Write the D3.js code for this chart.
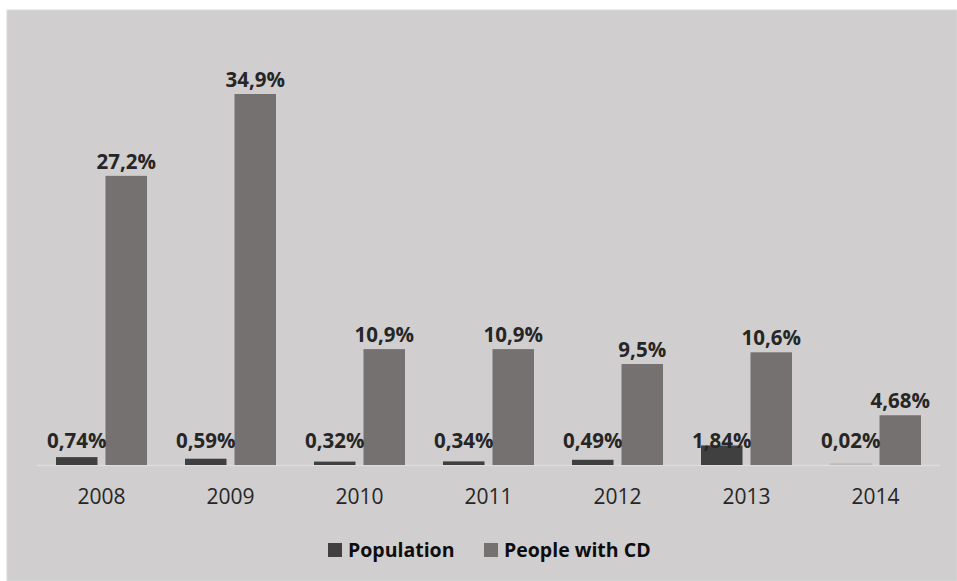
<!DOCTYPE html>
<html>
<head>
<meta charset="utf-8">
<script src="https://cdn.jsdelivr.net/npm/d3@7"></script>
<style>
  html, body { margin: 0; padding: 0; background: #ffffff; }
  svg { display: block; }
</style>
</head>
<body>
<svg id="chart" width="957" height="581"></svg>
<script>
// Share of population vs. share of people with CD, by year
const years = ["2008", "2009", "2010", "2011", "2012", "2013", "2014"];
const population = [0.74, 0.59, 0.32, 0.34, 0.49, 1.84, 0.02];
const peopleWithCD = [27.2, 34.9, 10.9, 10.9, 9.5, 10.6, 4.68];
const populationLabels = ["0,74%", "0,59%", "0,32%", "0,34%", "0,49%", "1,84%", "0,02%"];
const peopleLabels = ["27,2%", "34,9%", "10,9%", "10,9%", "9,5%", "10,6%", "4,68%"];
const seriesNames = ["Population", "People with CD"];
const seriesColors = ["#404040", "#767171"];

const svg = d3.select("#chart");
const font = "'Open Sans', 'Noto Sans', sans-serif";

// chart area background
svg.append("rect")
  .attr("x", 7).attr("y", 10)
  .attr("width", 957 - 7).attr("height", 581 - 10)
  .attr("fill", "#d0cece")
  .attr("stroke", "#d9d9d9").attr("stroke-width", 1);

const plot = { left: 37, right: 940, baseline: 465 };

const x = d3.scaleBand().domain(years).range([plot.left, plot.right]).paddingInner(0).paddingOuter(0);
const y = d3.scaleLinear().domain([0, 34.9]).range([plot.baseline, 94]);

const barW = 41.5;
const gap = 8;
const step = x.bandwidth();
const groupW = barW * 2 + gap;
const offsets = [step / 2 - groupW / 2, step / 2 - groupW / 2 + barW + gap];

// baseline
svg.append("line")
  .attr("x1", plot.left).attr("x2", plot.right)
  .attr("y1", plot.baseline + 0.5).attr("y2", plot.baseline + 0.5)
  .attr("stroke", "#dcdcdc").attr("stroke-width", 1.5);

const series = [population, peopleWithCD];
series.forEach((vals, si) => {
  svg.append("g").selectAll("rect")
    .data(vals)
    .join("rect")
    .attr("x", (d, i) => x(years[i]) + offsets[si])
    .attr("y", d => y(d))
    .attr("width", barW)
    .attr("height", d => Math.max(y(0) - y(d), 0))
    .attr("fill", seriesColors[si]);
});

// values too small to show as a bar get a faint line
const tiny = population.map((d, i) => ({ d, i })).filter(o => y(0) - y(o.d) < 1);
svg.append("g").selectAll("line")
  .data(tiny)
  .join("line")
  .attr("x1", o => x(years[o.i]) + offsets[0])
  .attr("x2", o => x(years[o.i]) + offsets[0] + barW)
  .attr("y1", plot.baseline - 1).attr("y2", plot.baseline - 1)
  .attr("stroke", "#bdbdbd").attr("stroke-width", 1.5);

// data labels: population labels sit in one row above the baseline
svg.append("g").selectAll("text")
  .data(populationLabels)
  .join("text")
  .attr("x", (d, i) => x(years[i]) + offsets[0] + barW / 2)
  .attr("y", plot.baseline - 17)
  .attr("text-anchor", "middle")
  .attr("font-family", font).attr("font-weight", 700).attr("font-size", 20.5)
  .attr("fill", "#262626")
  .text(d => d);

svg.append("g").selectAll("text")
  .data(peopleLabels)
  .join("text")
  .attr("x", (d, i) => x(years[i]) + offsets[1] + barW / 2)
  .attr("y", (d, i) => y(peopleWithCD[i]) - 7)
  .attr("text-anchor", "middle")
  .attr("font-family", font).attr("font-weight", 700).attr("font-size", 20.5)
  .attr("fill", "#262626")
  .text(d => d);

// category axis
const axis = svg.append("g")
  .attr("transform", `translate(0,${plot.baseline})`)
  .call(d3.axisBottom(x).tickSize(0).tickPadding(0));
axis.select(".domain").remove();
axis.selectAll("text")
  .attr("y", 39).attr("dy", null)
  .attr("font-family", font).attr("font-size", 21)
  .attr("fill", "#262626");

// legend
const legendItems = [
  { name: seriesNames[0], color: seriesColors[0], x: 328 },
  { name: seriesNames[1], color: seriesColors[1], x: 484 }
];
const lg = svg.append("g").selectAll("g").data(legendItems).join("g")
  .attr("transform", d => `translate(${d.x},543)`);
lg.append("rect").attr("width", 14).attr("height", 14).attr("fill", d => d.color);
lg.append("text")
  .attr("x", 20).attr("y", 14)
  .attr("font-family", font).attr("font-weight", 700).attr("font-size", 19.5)
  .attr("fill", "#0d0d0d")
  .text(d => d.name);
</script>
</body>
</html>
